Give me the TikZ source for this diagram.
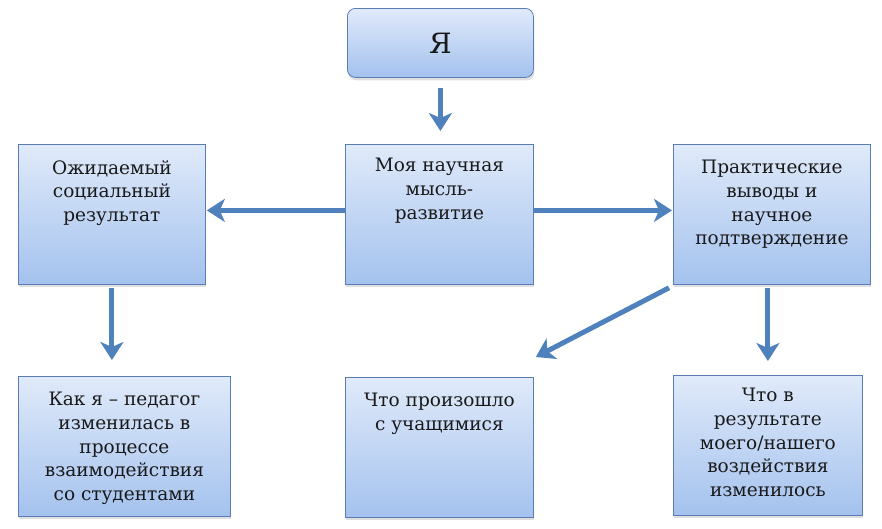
\documentclass[tikz,border=0pt]{standalone}
\usepackage{fontspec}
\setmainfont{DejaVu Serif}
\usetikzlibrary{arrows.meta,shadows}
\definecolor{boxtop}{HTML}{E0EAFA}
\definecolor{boxbot}{HTML}{A4C2EE}
\definecolor{boxline}{HTML}{5B7DB5}
\definecolor{arrowc}{HTML}{4F81BD}
\begin{document}
\begin{tikzpicture}[x=1pt,y=-1pt,
 box/.style={draw=boxline, line width=0.8pt, top color=boxtop, bottom color=boxbot, inner sep=0pt, anchor=north west,
   drop shadow={shadow xshift=1pt,shadow yshift=-3pt,opacity=0.25}},
 txt/.style={anchor=north, align=center, font=\fontsize{18.5}{23.7}\selectfont, inner sep=0pt, text=black!90},
 arr/.style={draw=arrowc, line width=5pt, -{Stealth[width=23pt,length=18pt,inset=5pt]}}]
\useasboundingbox (0,0) rectangle (882,528);
% boxes
\node[box, rounded corners=8pt, minimum width=186pt, minimum height=69pt] (ya) at (347,8) {};
\node[box, minimum width=187pt, minimum height=140pt] (goal) at (18,144) {};
\node[box, minimum width=188pt, minimum height=140pt] (mid) at (345,144) {};
\node[box, minimum width=197pt, minimum height=140pt] (prak) at (673,144) {};
\node[box, minimum width=212pt, minimum height=140pt] (kak) at (18,376) {};
\node[box, minimum width=188pt, minimum height=140pt] (chto) at (345,377) {};
\node[box, minimum width=189pt, minimum height=140pt] (res) at (673,375) {};
% texts
\node[font=\fontsize{28}{30}\selectfont, text=black!90] (tya) at (ya.center) {Я};
\node[txt] (tgoal) at ([yshift=-16pt]goal.north) {Ожидаемый\\социальный\\результат};
\node[txt] (tmid) at ([yshift=-14pt]mid.north) {Моя научная\\мысль-\\развитие};
\node[txt] (tprak) at ([yshift=-16pt]prak.north) {Практические\\выводы и\\научное\\подтверждение};
\node[txt] (tkak) at ([yshift=-16pt]kak.north) {Как я – педагог\\изменилась в\\процессе\\взаимодействия\\со студентами};
\node[txt] (tchto) at ([yshift=-16pt]chto.north) {Что произошло\\с учащимися};
\node[txt] (tres) at ([yshift=-13pt]res.north) {Что в\\результате\\моего/нашего\\воздействия\\изменилось};
% arrows
\draw[arr, shorten <=10pt, shorten >=13pt] (ya.south) -- (ya.south |- mid.north);
\draw[arr, shorten >=1pt] ([yshift=4pt]mid.west) -- ([yshift=4pt]goal.east);
\draw[arr, shorten >=1pt] ([yshift=4pt]mid.east) -- ([yshift=4pt]prak.west);
\draw[arr, shorten <=3pt, shorten >=16pt] (goal.south) -- (goal.south |- kak.north);
\draw[arr, shorten <=3pt, shorten >=14pt] (prak.south -| res.north) -- (res.north);
\draw[arr] ([xshift=-4pt,yshift=-3pt]prak.south west) -- ([xshift=2pt,yshift=20pt]chto.north east);
\end{tikzpicture}
\end{document}
